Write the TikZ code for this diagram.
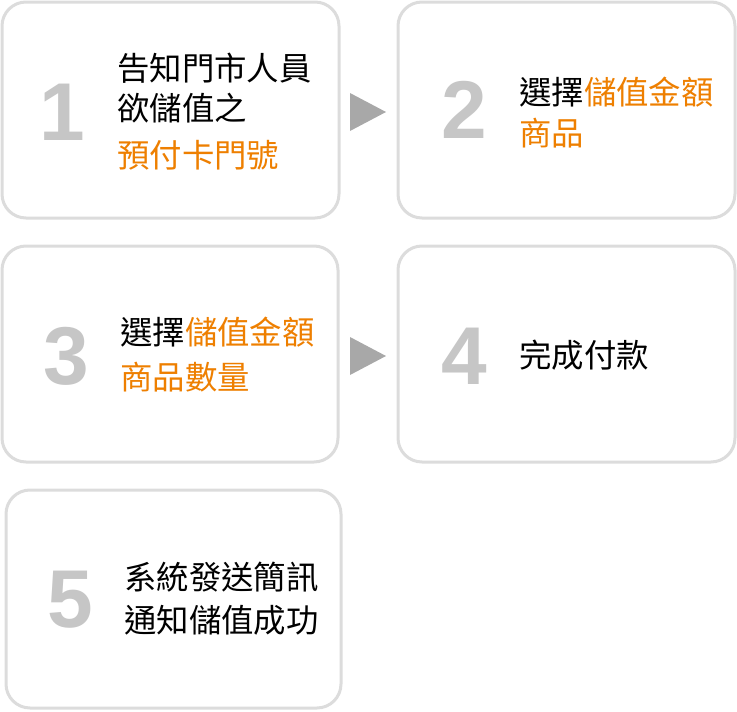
\documentclass[tikz,border=0pt]{standalone}
\usepackage{fontspec}
\newfontfamily\cjk{Noto Sans CJK TC}
\newfontfamily\numf{Liberation Sans}
\definecolor{org}{HTML}{EE7F00}
\definecolor{bd}{HTML}{DCDCDC}
\definecolor{numc}{HTML}{C6C6C6}
\definecolor{arr}{HTML}{A8A8A8}
\tikzset{
 card/.style={draw=bd,line width=3pt,rounded corners=24pt,fill=white},
 num/.style={font=\numf\bfseries\fontsize{82}{82}\selectfont,text=numc,inner sep=0pt},
 txt/.style={font=\cjk\fontsize{32.4}{32.4}\selectfont,anchor=west,inner sep=0pt},
 tri/.style={fill=arr,draw=none}
}
\begin{document}
\begin{tikzpicture}[x=1pt,y=-1pt]
\useasboundingbox (0,0) rectangle (737,712);
\draw[card] (2,2) rectangle (339,218);
\draw[card] (398,2) rectangle (735,218);
\draw[card] (2,246) rectangle (338,462);
\draw[card] (398,246) rectangle (735,462);
\draw[card] (6,490) rectangle (341,708);
\node[num] (n1) at (62,112) {1};
\node[num] (n2) at (464,110) {2};
\node[num] (n3) at (66,356) {3};
\node[num] (n4) at (464,356) {4};
\node[num] (n5) at (70,600) {5};
\node[txt] (t1a) at (117,68) {告知門市人員};
\node[txt] (t1b) at (117,108) {欲儲值之};
\node[txt,text=org] (t1c) at (117,155) {預付卡門號};
\node[txt] (t2a) at (519,92) {選擇\textcolor{org}{儲值金額}};
\node[txt,text=org] (t2b) at (519,133) {商品};
\node[txt] (t3a) at (120,332) {選擇\textcolor{org}{儲值金額}};
\node[txt,text=org] (t3b) at (120,377) {商品數量};
\node[txt] (t4) at (519,355) {完成付款};
\node[txt] (t5a) at (124,577) {系統發送簡訊};
\node[txt] (t5b) at (124,620) {通知儲值成功};
\coordinate (a1) at (350,93);
\fill[tri] (a1) -- ++(0,38) -- ++(36,-19) -- cycle;
\coordinate (a2) at (350,337);
\fill[tri] (a2) -- ++(0,38) -- ++(36,-19) -- cycle;
\end{tikzpicture}
\end{document}
